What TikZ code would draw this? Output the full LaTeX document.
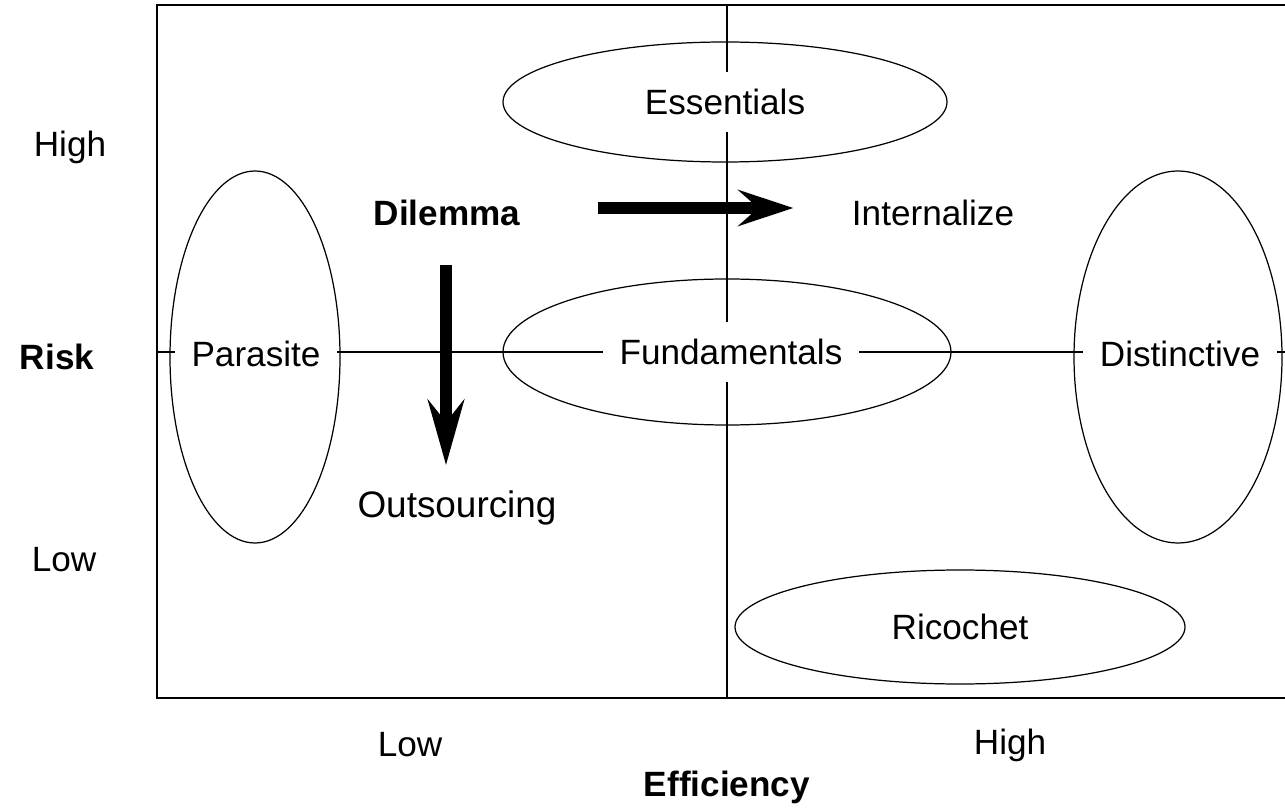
\documentclass[tikz,border=0pt]{standalone}
\usepackage{fontspec}
\setmainfont{Liberation Sans}
\usetikzlibrary{arrows.meta}
\begin{document}
\begin{tikzpicture}[line width=0.35pt,
    lbl/.style={fill=white,inner sep=0.17cm,font=\fontsize{10}{12}\selectfont},
    fatarrow/.style={line width=0.12cm,-{Stealth[length=5.5mm,width=3.6mm,inset=2mm]}}]
      \useasboundingbox (0,0) rectangle (12.85,8.08);
      %
      \draw (12.85,8.03) -- (1.57,8.03) -- (1.57,1.10) -- (12.85,1.10);
      \draw (7.27,1.10) -- (7.27,8.03);
      \draw (1.57,4.56) -- (12.85,4.56);
      %
      \draw (7.25,7.06) ellipse (2.22 and 0.60);
      \draw (7.27,4.56) ellipse (2.24 and 0.73);
      \draw (2.55,4.51) ellipse (0.85 and 1.86);
      \draw (11.78,4.51) ellipse (1.04 and 1.86);
      \draw (9.60,1.81) ellipse (2.25 and 0.57);
      %
      \node[lbl] (essentials) at (7.25,7.06) {Essentials};
      \node[lbl] (fundamentals) at (7.31,4.56) {Fundamentals};
      \node[lbl] (parasite) at (2.56,4.54) {Parasite};
      \node[lbl] (distinctive) at (11.80,4.54) {Distinctive};
      \node[lbl] (ricochet) at (9.60,1.81) {Ricochet};
      \node[lbl] (internalize) at (9.33,5.95) {Internalize};
      \node[lbl,font=\fontsize{10}{12}\selectfont\bfseries] (dilemma) at (4.47,5.95) {Dilemma};
      \node[lbl,font=\fontsize{10.5}{12}\selectfont] (outsourcing) at (4.57,3.00) {Outsourcing};
      %
      \node[lbl] (riskHigh) at (0.70,6.61) {High};
      \node[lbl,font=\fontsize{10}{12}\selectfont\bfseries] (risk) at (0.57,4.51) {Risk};
      \node[lbl] (riskLow) at (0.64,2.48) {Low};
      \node[lbl] (effLow) at (4.10,0.63) {Low};
      \node[lbl] (effHigh) at (10.10,0.63) {High};
      \node[lbl,font=\fontsize{10}{12}\selectfont\bfseries] (efficiency) at (7.27,0.21) {Efficiency};
      %
      \draw[fatarrow,shorten <=0.6cm,shorten >=0.41cm]
        ([yshift=0.5mm]dilemma.east) -- ([yshift=0.5mm]internalize.west);
      \draw[fatarrow,-{Stealth[length=6.5mm,width=3.6mm,inset=2.2mm]},shorten <=0.21cm,shorten >=0.08cm]
        ([xshift=-0.1mm]dilemma.south) -- ([xshift=-0.1mm]dilemma.south |- outsourcing.north);
    \end{tikzpicture}
\end{document}
